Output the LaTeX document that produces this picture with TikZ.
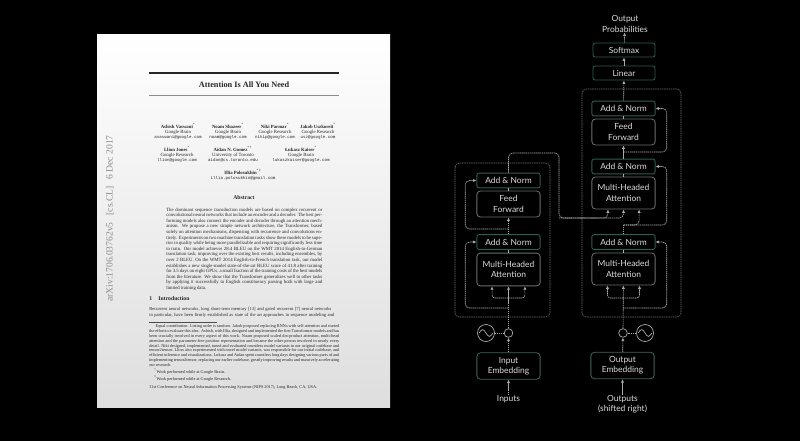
\documentclass[tikz,border=0pt]{standalone}
\usepackage{fontspec}
\newfontfamily\diagfont{Lato}
\newfontfamily\paperfont{Liberation Serif}
\newfontfamily\papermono{Liberation Mono}
\usetikzlibrary{arrows.meta,calc}

\definecolor{normgreen}{HTML}{2F5D4F}
\definecolor{boxgray}{HTML}{6E6E6E}
\definecolor{linegray}{HTML}{AAAAAA}
\definecolor{diagtext}{HTML}{DCDCDC}

\begin{document}
\begin{tikzpicture}[x=0.025cm,y=-0.025cm,>={Latex[length=2.4pt,width=2.2pt]},
  diag/.style={font=\diagfont\fontsize{6}{7.4}\selectfont,text=diagtext,align=center,inner sep=0pt},
  normbox/.style={diag,draw=normgreen,fill=black,rounded corners=1.5pt,line width=0.6pt,minimum width=1.58cm,minimum height=0.37cm},
  layerbox/.style={diag,draw=boxgray,fill=black,rounded corners=2.5pt,line width=0.6pt,minimum width=1.58cm},
  embbox/.style={layerbox,draw=normgreen!80!gray,minimum height=0.66cm},
  conn/.style={draw=linegray,line width=0.45pt,dash pattern=on 1pt off 0.45pt},
  outerbox/.style={draw=boxgray,line width=0.45pt,dash pattern=on 1pt off 0.6pt,rounded corners=3pt},
  posadd/.style={circle,draw=linegray,line width=0.5pt,inner sep=0pt,minimum size=0.215cm},
  posenc/.style={circle,draw=linegray,line width=0.5pt,inner sep=0pt,minimum size=0.425cm},
  ptext/.style={font=\paperfont\fontsize{3.4}{3.6}\selectfont,text=black!85,inner sep=0pt},
  pnote/.style={ptext,font=\paperfont\fontsize{3.04}{3.47}\selectfont}]
\useasboundingbox (0,0) rectangle (800,441);
\fill[black] (0,0) rectangle (800,441);

% paper page
\shade[top color=white,middle color=white!97!black,bottom color=black!13] (97,34) rectangle (390,407);
\draw[black!85,line width=1.3pt] (149,72.7) -- (339,72.7);
\draw[black!45,line width=0.5pt] (149,95.7) -- (339,95.7);
\node[ptext,font=\paperfont\bfseries\fontsize{5.87}{7}\selectfont] (ptitle) at (244,85) {Attention Is All You Need};
\node[ptext,align=center] (au1) at (178,131) {\textbf{Ashish Vaswani}\textsuperscript{*}\\Google Brain\\{\papermono\fontsize{2.95}{3.6}\selectfont avaswani@google.com}};
\node[ptext,align=center] (au2) at (228,131) {\textbf{Noam Shazeer}\textsuperscript{*}\\Google Brain\\{\papermono\fontsize{2.95}{3.6}\selectfont noam@google.com}};
\node[ptext,align=center] (au3) at (275,131) {\textbf{Niki Parmar}\textsuperscript{*}\\Google Research\\{\papermono\fontsize{2.95}{3.6}\selectfont nikip@google.com}};
\node[ptext,align=center] (au4) at (318,131) {\textbf{Jakob Uszkoreit}\textsuperscript{*}\\Google Research\\{\papermono\fontsize{2.95}{3.6}\selectfont usz@google.com}};
\node[ptext,align=center] (au5) at (177,154) {\textbf{Llion Jones}\textsuperscript{*}\\Google Research\\{\papermono\fontsize{2.95}{3.6}\selectfont llion@google.com}};
\node[ptext,align=center] (au6) at (233,154) {\textbf{Aidan N. Gomez}\textsuperscript{* †}\\University of Toronto\\{\papermono\fontsize{2.95}{3.6}\selectfont aidan@cs.toronto.edu}};
\node[ptext,align=center] (au7) at (301,154) {\textbf{Łukasz Kaiser}\textsuperscript{*}\\Google Brain\\{\papermono\fontsize{2.95}{3.6}\selectfont lukaszkaiser@google.com}};
\node[ptext,align=center] (au8) at (243,175) {\textbf{Illia Polosukhin}\textsuperscript{* ‡}\\{\papermono\fontsize{2.95}{3.6}\selectfont illia.polosukhin@gmail.com}};
\node[ptext,font=\paperfont\bfseries\fontsize{4.07}{5}\selectfont] (abshead) at (244,198) {Abstract};
\node[ptext,anchor=north west,text width=3.9cm,align=justify,font=\paperfont\fontsize{3.4}{3.98}\selectfont] (abstract) at (166,207.5) {The dominant sequence transduction models are based on complex recurrent or convolutional neural networks that include an encoder and a decoder. The best performing models also connect the encoder and decoder through an attention mechanism. We propose a new simple network architecture, the Transformer, based solely on attention mechanisms, dispensing with recurrence and convolutions entirely. Experiments on two machine translation tasks show these models to be superior in quality while being more parallelizable and requiring significantly less time to train. Our model achieves 28.4 BLEU on the WMT 2014 English-to-German translation task, improving over the existing best results, including ensembles, by over 2 BLEU. On the WMT 2014 English-to-French translation task, our model establishes a new single-model state-of-the-art BLEU score of 41.8 after training for 3.5 days on eight GPUs, a small fraction of the training costs of the best models from the literature. We show that the Transformer generalizes well to other tasks by applying it successfully to English constituency parsing both with large and limited training data.};
\node[ptext,anchor=west,font=\paperfont\bfseries\fontsize{4.07}{5}\selectfont] (intro) at (149,299) {1\hspace{4.5pt}Introduction};
\node[ptext,anchor=north west,text width=4.75cm,font=\paperfont\fontsize{3.25}{3.98}\selectfont] (introtext) at (149,307.5) {\hyphenpenalty=10000\parfillskip=0pt Recurrent neural networks, long short-term memory [13] and gated recurrent [7] neural networks\linebreak in particular, have been firmly established as state of the art approaches in sequence modeling and};
\draw[black!70,line width=0.25pt] (149,321.7) -- (217,321.7);
\node[pnote,anchor=north west,text width=4.75cm,align=justify] (foot) at (149,322.5) {\hspace*{3pt}\textsuperscript{*}Equal contribution. Listing order is random. Jakob proposed replacing RNNs with self-attention and started the effort to evaluate this idea. Ashish, with Illia, designed and implemented the first Transformer models and has been crucially involved in every aspect of this work. Noam proposed scaled dot-product attention, multi-head attention and the parameter-free position representation and became the other person involved in nearly every detail. Niki designed, implemented, tuned and evaluated countless model variants in our original codebase and tensor2tensor. Llion also experimented with novel model variants, was responsible for our initial codebase, and efficient inference and visualizations. Lukasz and Aidan spent countless long days designing various parts of and implementing tensor2tensor, replacing our earlier codebase, greatly improving results and massively accelerating our research.};
\node[pnote,anchor=north west] (foot2) at ([xshift=0.13cm,yshift=-0.6pt]foot.south west) {\textsuperscript{†}Work performed while at Google Brain.};
\node[pnote,anchor=north west] (foot3) at ([yshift=-0.9pt]foot2.south west) {\textsuperscript{‡}Work performed while at Google Research.};
\node[pnote,anchor=west] (conf) at (149,387) {31st Conference on Neural Information Processing Systems (NIPS 2017), Long Beach, CA, USA.};
\node[ptext,rotate=90,text=black!45,font=\paperfont\fontsize{6.8}{8}\selectfont] (stamp) at (110,218.5) {arXiv:1706.03762v5\hspace{5pt}[cs.CL]\hspace{5pt}6 Dec 2017};

% transformer
\draw[outerbox] (455,163) rectangle (550,317);
\draw[outerbox] (582,89) rectangle (681,317);

% encoder side
\node[diag] (inputs) at (508.5,399) {Inputs};
\node[embbox] (inemb) at (508.5,366) {Input\\Embedding};
\node[posadd] (encadd) at (508.5,333) {};
\node[posenc] (encpe) at (486,333) {};
\node[layerbox,minimum height=0.82cm] (encmha) at (508.5,269.5) {Multi-Headed\\Attention};
\node[normbox] (encan1) at (508.5,242) {Add \& Norm};
\node[layerbox,minimum height=0.65cm] (encff) at (508.5,204) {Feed\\Forward};
\node[normbox] (encan2) at (508.5,180.5) {Add \& Norm};

% decoder side
\node[diag] (outputs) at (622.5,404) {Outputs\\(shifted right)};
\node[embbox] (outemb) at (622.5,365.5) {Output\\Embedding};
\node[posadd] (decadd) at (623,333) {};
\node[posenc] (decpe) at (645,333) {};
\node[layerbox,minimum height=0.8cm] (decmha1) at (623.5,269) {Multi-Headed\\Attention};
\node[normbox] (decan1) at (623.5,242) {Add \& Norm};
\node[layerbox,minimum height=0.8cm] (decmha2) at (623.5,193) {Multi-Headed\\Attention};
\node[normbox] (decan2) at (623.5,166.5) {Add \& Norm};
\node[layerbox,minimum height=0.65cm] (decff) at (623.5,132) {Feed\\Forward};
\node[normbox] (decan3) at (623.5,108.5) {Add \& Norm};
\node[normbox,minimum width=1.55cm,minimum height=0.35cm] (linear) at (624,73) {Linear};
\node[normbox,minimum width=1.55cm,minimum height=0.35cm] (softmax) at (624,50) {Softmax};
\node[diag] (probs) at (625,24) {Output\\Probabilities};

\coordinate (encsplit) at (508.5,298);
\coordinate (encres1) at (508.5,308);
\coordinate (encres2) at (508.5,229);
\coordinate (enctop) at (508.5,153);
\coordinate (encbend) at (559,218);
\coordinate (decsplit1) at (623,298);
\coordinate (decres1) at (623,308);
\coordinate (decsplit2) at (623.5,225);
\coordinate (decres3) at (623.5,152);

% sine marks
\foreach \pe in {encpe,decpe}
  \draw[linegray,line width=0.5pt] ([xshift=-0.17cm]\pe.center) sin ([xshift=-0.085cm,yshift=0.085cm]\pe.center) cos (\pe.center) sin ([xshift=0.085cm,yshift=-0.085cm]\pe.center) cos ([xshift=0.17cm]\pe.center);

% encoder connectors
\draw[conn,->] (inputs) -- (inemb);
\draw[conn,->] (inemb) -- (encadd);
\draw[conn] (encpe) -- (encadd);
\draw[conn,->] (encadd) -- (encmha);
\draw[conn,->,rounded corners=2pt] (encsplit) -| ([xshift=-0.41cm]encmha.south);
\draw[conn,->,rounded corners=2pt] (encsplit) -| ([xshift=0.41cm]encmha.south);
\draw[conn,->,rounded corners=3pt] (encres1) -| ([xshift=-0.28cm]encan1.west) -- (encan1.west);
\draw[conn] (encmha) -- (encan1);
\draw[conn,->] (encan1) -- (encff);
\draw[conn,->,rounded corners=3pt] (encres2) -| ([xshift=-0.28cm]encan2.west) -- (encan2.west);
\draw[conn] (encff) -- (encan2);
\draw[conn,->,rounded corners=3pt] (encan2.north) -- (enctop) -| (encbend) -| ([xshift=-0.39cm]decmha2.south);
\draw[conn,->,rounded corners=3pt] (encbend) -| (decmha2.south);

% decoder connectors
\draw[conn,->] (outputs) -- (outemb);
\draw[conn,->] (outemb) -- (decadd);
\draw[conn] (decpe) -- (decadd);
\draw[conn,->] (decadd) -- (decmha1);
\draw[conn,->,rounded corners=2pt] (decsplit1) -| ([xshift=-0.4cm]decmha1.south);
\draw[conn,->,rounded corners=2pt] (decsplit1) -| ([xshift=0.4cm]decmha1.south);
\draw[conn,->,rounded corners=3pt] (decres1) -| ([xshift=0.28cm]decan1.east) -- (decan1.east);
\draw[conn] (decmha1) -- (decan1);
\draw[conn] (decan1.north) -- (decsplit2);
\draw[conn,->,rounded corners=3pt] (decsplit2) -| ([xshift=0.39cm]decmha2.south);
\draw[conn,->,rounded corners=3pt] (decsplit2) -| ([xshift=0.28cm]decan2.east) -- (decan2.east);
\draw[conn] (decmha2) -- (decan2);
\draw[conn,->] (decan2) -- (decff);
\draw[conn,->,rounded corners=3pt] (decres3) -| ([xshift=0.28cm]decan3.east) -- (decan3.east);
\draw[conn] (decff) -- (decan3);
\draw[conn,->] (decan3) -- (linear);
\draw[conn,->] (linear) -- (softmax);
\draw[conn,->] (softmax) -- (probs);
\end{tikzpicture}
\end{document}
